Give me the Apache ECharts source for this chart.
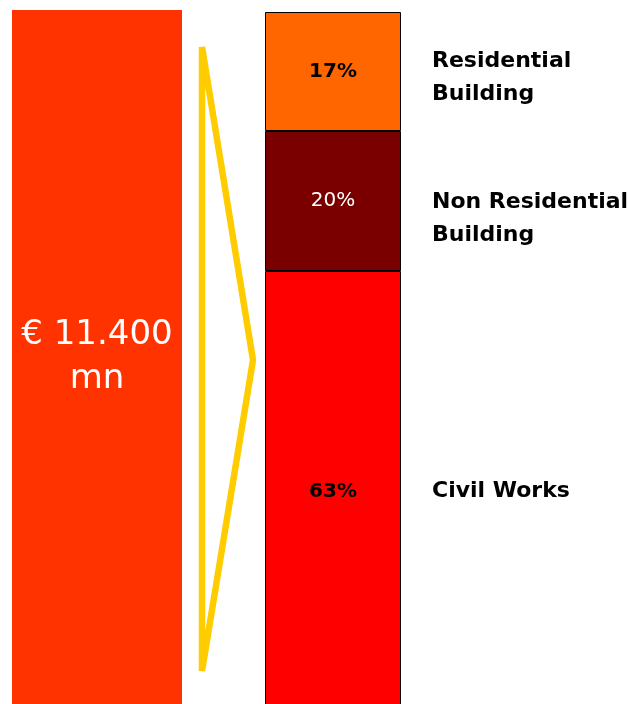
<!DOCTYPE html>
<html>
<head>
<meta charset="utf-8">
<title>Construction market split</title>
<script src="https://cdn.jsdelivr.net/npm/echarts@6/dist/echarts.min.js"></script>
<style>
  html, body { margin: 0; padding: 0; background: #fff; }
  #chart { width: 630px; height: 704px; }
</style>
</head>
<body>
<div id="chart"></div>
<script>
'use strict';

// total market, shown as the big left bar
const totalLabel = '€ 11.400\nmn';
const totalValue = [100];

// segments, bottom to top as ECharts stacks them
const segments = ['Civil Works', 'Non Residential\nBuilding', 'Residential\nBuilding'];
const shares = [63, 20, 17];
const segmentColors = ['#ff0000', '#7a0000', '#ff6600'];
const pctColors = ['#000', '#fff', '#000'];
const pctWeights = ['bold', 'normal', 'bold'];
// small vertical nudges for the names on the right
const nameOffsets = [0, 18, 6];

const font = 'DejaVu Sans, Verdana, sans-serif';

let chart = echarts.init(document.getElementById('chart'));

let series = [
  {
    type: 'bar',
    xAxisIndex: 0,
    yAxisIndex: 0,
    data: totalValue,
    barWidth: '100%',
    itemStyle: { color: '#ff3300' },
    label: {
      show: true,
      position: 'inside',
      formatter: totalLabel,
      color: '#fff',
      fontFamily: font,
      fontSize: 34,
      lineHeight: 44
    },
    silent: true
  }
];

// coloured stack with the percentages
segments.forEach(function(name, i) {
  series.push({
    type: 'bar',
    name: name,
    xAxisIndex: 1,
    yAxisIndex: 1,
    stack: 'share',
    barWidth: '100%',
    data: [shares[i]],
    itemStyle: { color: segmentColors[i], borderColor: '#000', borderWidth: 1 },
    label: {
      show: true,
      position: 'inside',
      formatter: '{c}%',
      color: pctColors[i],
      fontFamily: font,
      fontWeight: pctWeights[i],
      fontSize: 20
    },
    silent: true
  });
});

// invisible copy of the stack that carries the names on the right
segments.forEach(function(name, i) {
  series.push({
    type: 'bar',
    xAxisIndex: 1,
    yAxisIndex: 1,
    stack: 'names',
    barWidth: '100%',
    barGap: '-100%',
    data: [shares[i]],
    itemStyle: { color: 'transparent' },
    label: {
      show: true,
      position: 'right',
      distance: 31,
      offset: [0, nameOffsets[i]],
      formatter: name,
      align: 'left',
      color: '#000',
      fontFamily: font,
      fontWeight: 'bold',
      fontSize: 22,
      lineHeight: 33
    },
    silent: true
  });
});

let option = {
  animation: false,
  grid: [
    { left: 12, width: 170, top: 10, bottom: 0 },
    { left: 265, width: 136, top: 12, height: 700, outerBoundsMode: 'none' }
  ],
  xAxis: [
    { gridIndex: 0, type: 'category', data: ['total'], show: false },
    { gridIndex: 1, type: 'category', data: ['split'], show: false }
  ],
  yAxis: [
    { gridIndex: 0, type: 'value', min: 0, max: 100, show: false },
    { gridIndex: 1, type: 'value', min: 0, max: 100, show: false }
  ],
  graphic: [
    {
      type: 'polygon',
      shape: { points: [[202, 47], [253, 360], [202, 671]] },
      style: { fill: 'none', stroke: '#ffcc00', lineWidth: 6.5 },
      silent: true
    }
  ],
  series: series
};

chart.setOption(option);
</script>
</body>
</html>
